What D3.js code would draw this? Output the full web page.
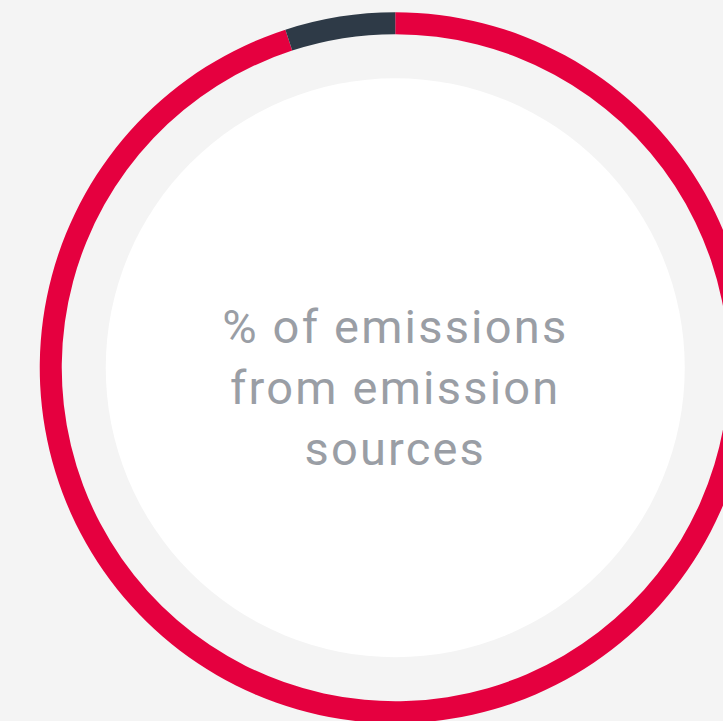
<!DOCTYPE html>
<html><head><meta charset="utf-8">
<script src="https://cdn.jsdelivr.net/npm/d3@7"></script>
<style>html,body{margin:0;padding:0;background:#f4f4f4;overflow:hidden}</style>
</head><body>
<script>
const categories = ["Other emission sources", "Selected emission source"];
const values = [95, 5];
const colors = ["#e5003f", "#2e3a47"];
const centerLines = ["% of emissions", "from emission", "sources"];

const W = 723, H = 721, cx = 395.25, cy = 367.75;
const outerR = 355.5, innerR = 333.5, whiteR = 289.5;

const svg = d3.select("body").append("svg").attr("width", W).attr("height", H);
svg.append("rect").attr("width", W).attr("height", H).attr("fill", "#f4f4f4");
const g = svg.append("g").attr("transform", `translate(${cx},${cy})`);
g.append("circle").attr("r", whiteR).attr("fill", "#ffffff");

const pie = d3.pie().sort(null).value(d => d.v);
const arc = d3.arc().innerRadius(innerR).outerRadius(outerR);
g.selectAll("path.slice").data(pie(categories.map((c, i) => ({c, v: values[i]}))))
  .join("path").attr("class", "slice").attr("d", arc).attr("fill", (d, i) => colors[i]);

const text = g.append("text").attr("text-anchor", "middle")
  .attr("font-family", "Roboto, 'Noto Sans', sans-serif").attr("font-weight", 400)
  .attr("font-size", 47).attr("letter-spacing", 2.2).attr("fill", "#9a9ea5");
centerLines.forEach((t, i) => {
  text.append("tspan").attr("x", 0).attr("y", -25 + i * 61).text(t);
});
</script>
</body></html>
